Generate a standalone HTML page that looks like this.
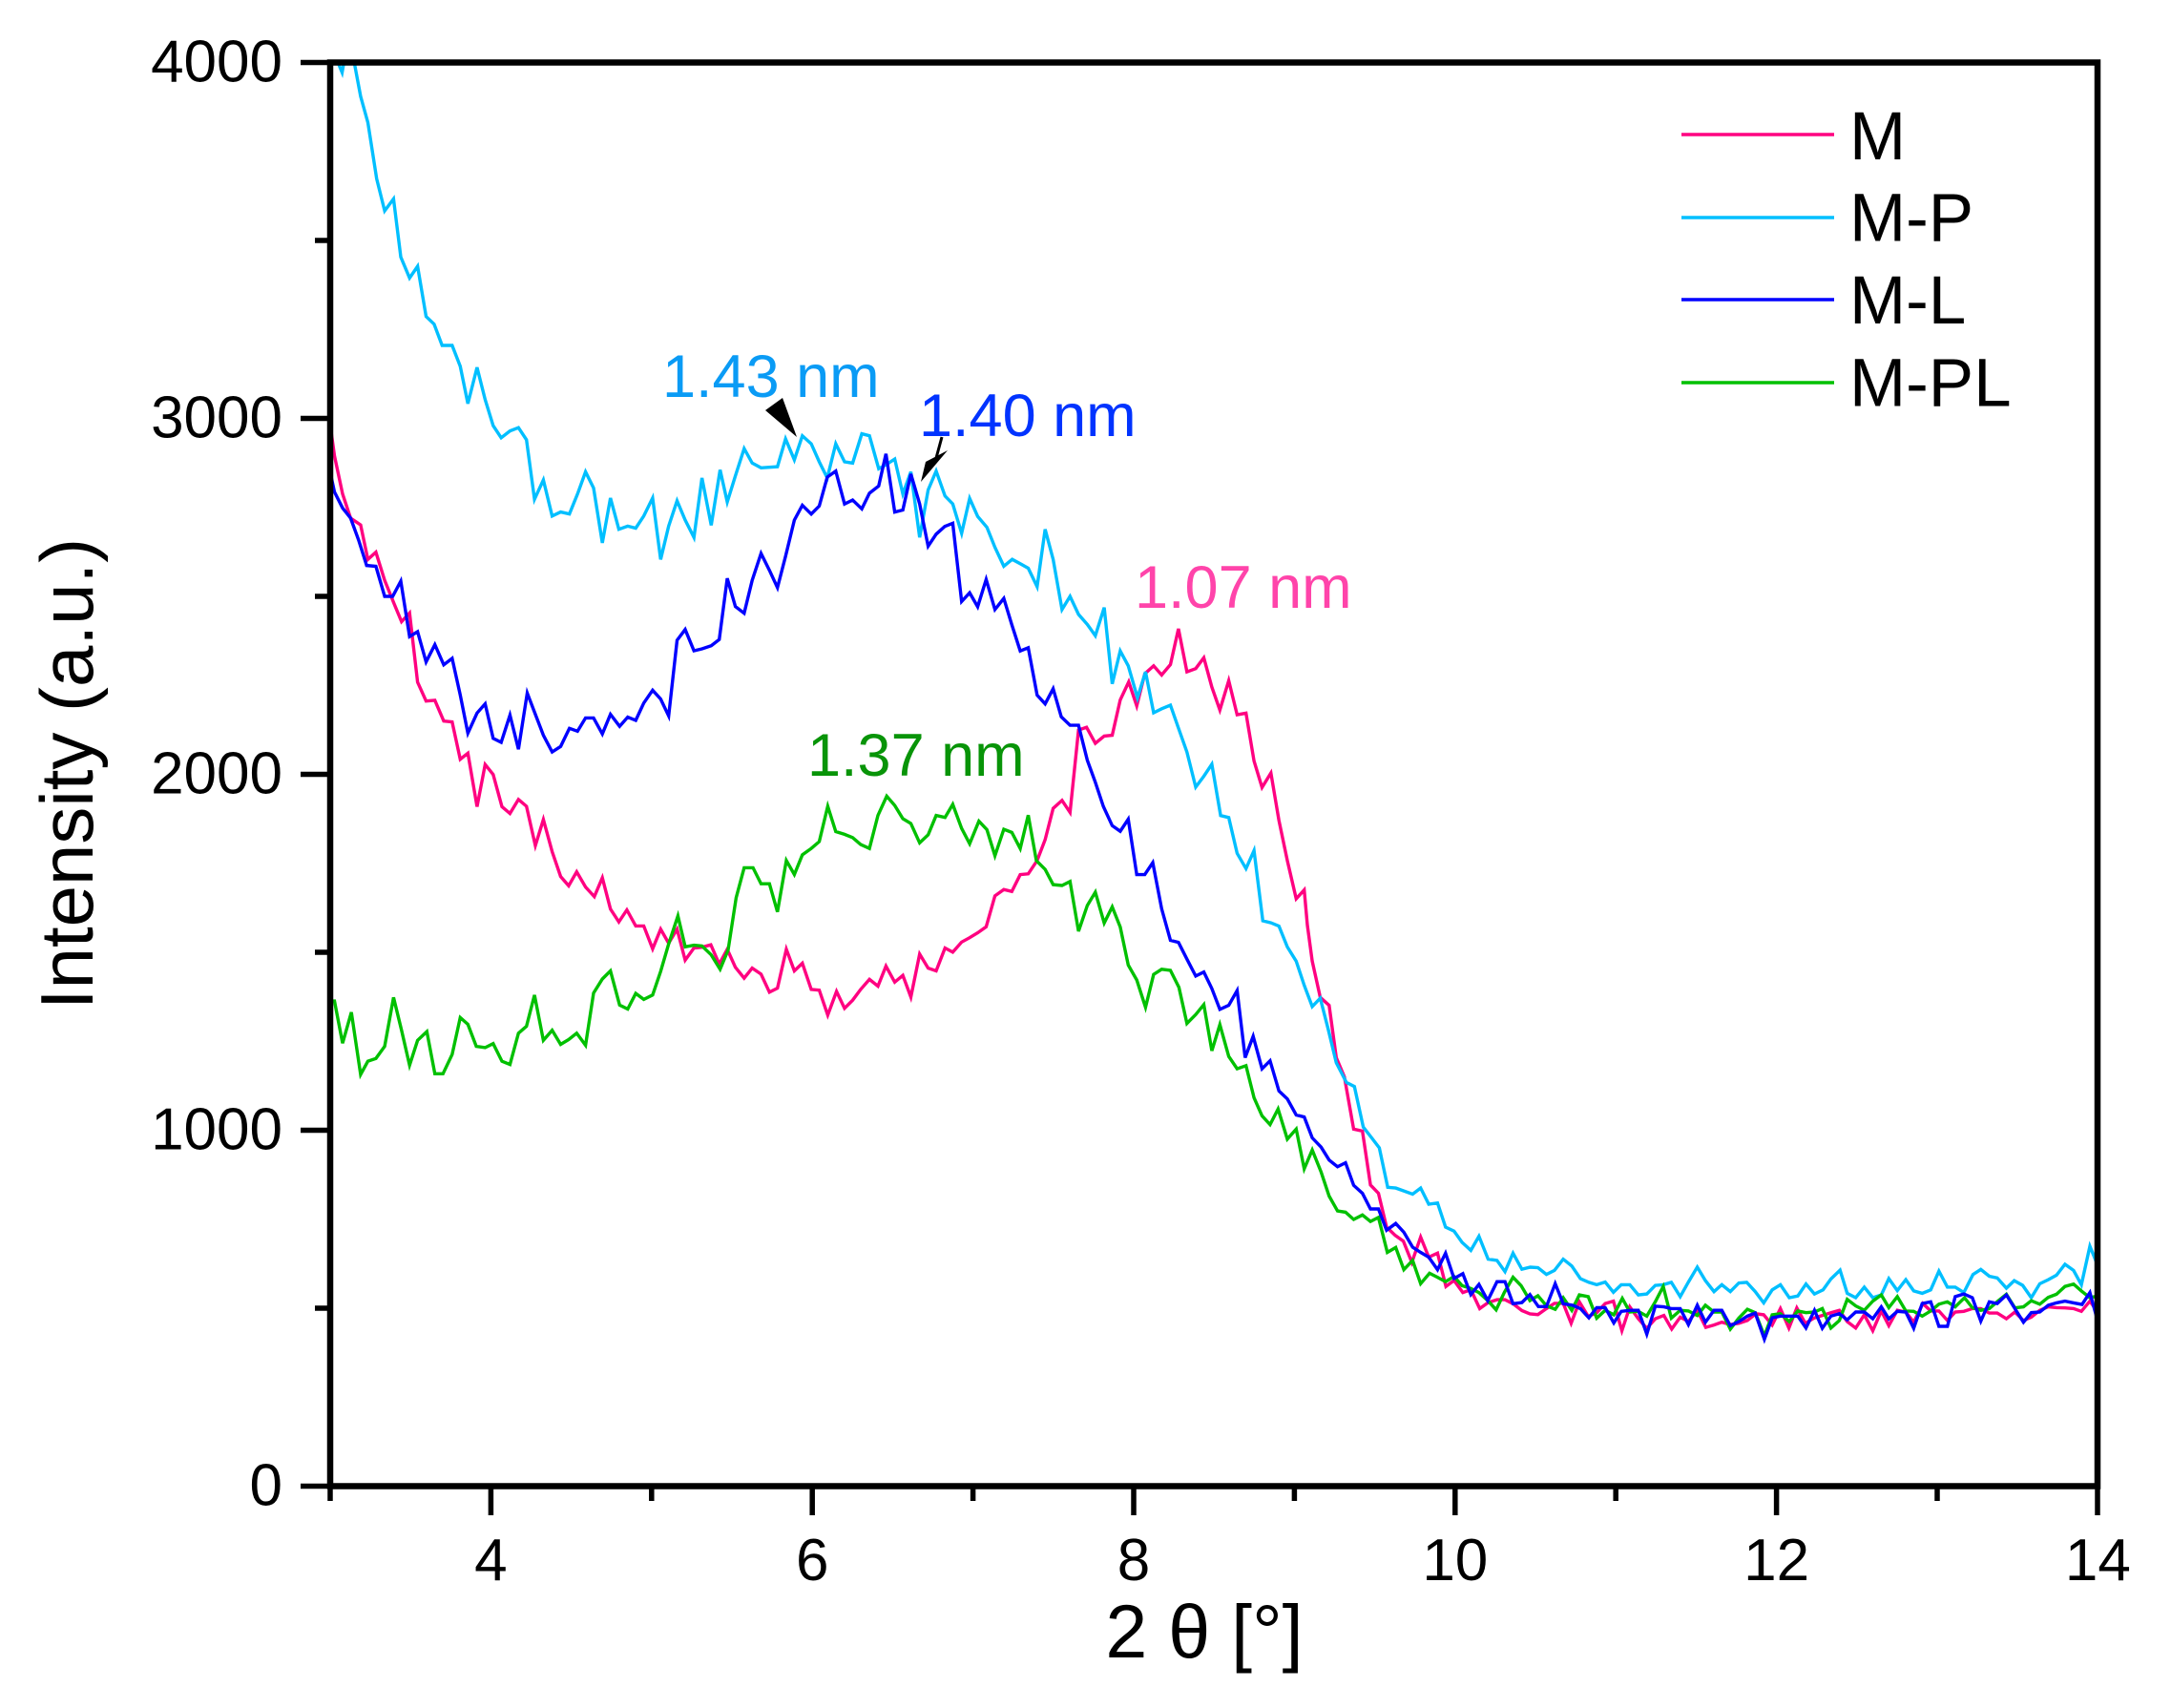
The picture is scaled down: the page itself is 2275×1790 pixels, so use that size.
<!DOCTYPE html>
<html>
<head>
<meta charset="utf-8">
<style>
html,body{margin:0;padding:0;background:#fff;}
svg{display:block;}
text{font-family:"Liberation Sans",Arial,sans-serif;}
</style>
</head>
<body>
<svg width="2275" height="1790" viewBox="0 0 2275 1790" xmlns="http://www.w3.org/2000/svg">
<rect x="0" y="0" width="2275" height="1790" fill="#fff"/>
<defs>
<clipPath id="pa"><rect x="346" y="65.5" width="1852" height="1492"/></clipPath>
</defs>

<g clip-path="url(#pa)" fill="none" stroke-width="3.4" stroke-linejoin="miter" stroke-linecap="butt">
<!-- M (pink) -->
<polyline stroke="#FF0080" points="345,437.7 350.5,477.7 359,517.7 367.4,543 377.9,550.1 385.5,586.3 393.9,578.7 403.1,608.2 412.4,631.3 420.8,651.5 429.2,642.4 437.6,714.9 446.5,734.7 455.7,733.9 465,755.7 473.8,756.6 482.3,795.7 490.3,789.4 499.9,845.4 508.4,801.2 516.8,811.7 526,845.4 534.4,852.5 543.3,837.8 551.7,845 561,886.2 569.4,858.9 578.6,892.5 587.5,918.6 595.9,928.3 604.3,913.6 613.6,929.6 622.8,939.7 631.2,919.9 639.7,952.7 648.5,966.2 656.9,953.6 666.2,970.4 674.6,970.4 683.9,994.4 692.3,973.8 700.7,988.5 709.5,973.8 718,1006.2 727.2,993.5 735.6,992.7 744.9,990.2 753.7,1010.4 762.1,994.8 770.6,1013.7 779.8,1025.1 788.2,1014.6 797.5,1020.9 806.3,1039.8 814.7,1035.6 824,994.8 832.4,1017.5 840.8,1009.5 850.1,1036.9 858.5,1037.7 867.4,1063.8 876.6,1039 885,1056.7 893.5,1048.2 901.9,1036.9 911.1,1026.4 920,1033.5 928.4,1012.5 937.6,1029.3 946.1,1022.2 954.5,1044.9 963.7,999.9 972.6,1014.6 981,1017.5 990.3,993.5 998.4,997.9 1007.7,987.3 1016.1,982.7 1024.5,977.6 1033.4,971.3 1042.6,938.9 1051.9,932.2 1060.3,934.3 1069.1,916.6 1077.5,915.8 1086.8,901.9 1095.2,880 1103.6,847.2 1112.9,838.8 1121.3,851.4 1130.2,765.1 1138.6,762.2 1147.8,779 1157.1,771.4 1165.5,770.6 1173.9,733.5 1182.8,714.6 1191.2,739.8 1199.6,706.2 1208.9,697.8 1217.3,707.4 1226.5,696.5 1234.9,659 1243.8,704.1 1253,700.7 1261.5,689.3 1269.9,720.1 1278.3,744.1 1287.6,713.3 1296.4,749.1 1305.7,747.4 1314.1,797.5 1322.5,825.3 1331.8,810.1 1340.2,859.8 1349,901.9 1358.3,941.9 1366.7,932.6 1370,969.5 1375.1,1007.3 1383.5,1045.2 1392.8,1053.6 1400.3,1108.4 1408.8,1128.6 1418.5,1183.3 1427.7,1185.4 1436.1,1241.8 1444.5,1250.6 1453,1286 1462.2,1294.8 1470.6,1300.7 1479.5,1323 1488.7,1296.5 1497.2,1317.5 1506.4,1313.3 1515.2,1348.2 1523.7,1341.9 1532.9,1354.6 1541.3,1351.6 1550.6,1371.4 1559.4,1365.1 1568.7,1362.1 1577.1,1362.1 1585.5,1366.3 1594.8,1373.5 1603.2,1376.9 1611.6,1377.7 1620.5,1371.4 1628.9,1365.9 1638.1,1365.9 1646.4,1386.8 1655,1364.3 1664.3,1379.6 1673.2,1375.7 1682.1,1366.1 1690.7,1363.6 1699.6,1394.6 1707.9,1369.6 1716.8,1382.1 1725.7,1392.1 1734.6,1382.1 1743.6,1378.6 1751.8,1392.9 1760.7,1380.4 1769.3,1385 1778.6,1373.2 1787.5,1391.1 1796.1,1388.6 1804.3,1385.7 1813.2,1388.2 1822.1,1386.8 1831.1,1383.9 1840,1376.8 1848.2,1377.9 1857.1,1388.6 1865.7,1371.4 1874.6,1391.8 1882.9,1370.7 1891.8,1386.8 1900.7,1381.4 1909.6,1378.6 1918.6,1375.7 1927.5,1373.2 1935.7,1385 1944.6,1391.8 1953.6,1377.9 1962.5,1394.6 1971.4,1373.9 1979.3,1389.3 1988.2,1373.2 1997.1,1375 2005.4,1385.7 2015,1366.1 2023.2,1373.9 2031.8,1373.9 2040.7,1383.9 2048.9,1375 2057.9,1374.3 2066.8,1371.4 2075.7,1371.4 2084.6,1376.1 2092.9,1376.1 2102.5,1382.1 2111.4,1375 2120.4,1383.9 2128.6,1380.4 2137.5,1373.2 2146.4,1369.6 2155,1370.4 2163.9,1370.7 2172.9,1371.4 2181.1,1374.3 2190,1363.6 2198.2,1375"/>
<!-- M-P (cyan) -->
<polyline stroke="#00BFFF" points="346,30 352,58 356,70 358.5,76 361,62 366,60 371.6,67.4 377.9,101 385.5,128.4 394.7,187.3 403.1,221 412.4,208.4 420,269.4 429.2,291.3 437.6,279.1 446.5,331.7 454.9,339.7 463.3,362 473.8,362 482.3,383.9 490.3,423 499.9,385.1 508.4,418.8 516.8,446.1 525.2,458.8 534.4,451.6 543.3,448.2 551.7,460.9 560.1,523.2 569.4,503 578.6,540.8 587.5,536.6 596.7,538.7 605.2,517.7 613.6,494.5 622,511.4 631.2,569 639.7,521.9 648.5,554.7 657.8,551.4 666.2,553.5 674.6,540.8 683.9,521.9 692.3,586.3 700.7,551.4 709.5,524.8 718,545 727.2,563.2 735.6,500.9 745.3,550.5 754.6,492.4 762.1,526.1 770.6,498.8 779.8,470.1 788.2,485.3 797.5,490.3 814.7,489.1 823.2,460 832.4,481.9 840.8,456.7 850.1,465.1 858.5,484 866.9,500.9 875.8,465.1 885,484 893.5,485.3 903.1,454.6 911.1,456.7 920.8,491.2 928.4,487 937.6,481.1 946.1,517.7 954.5,494.5 963.7,563.2 972.6,513.5 981,493.7 990.3,519.8 998.4,528.1 1007.7,558.9 1016.1,522.3 1024.5,541.2 1034.2,552.6 1042.6,573.6 1051.9,593.4 1060.7,586.2 1070,591.3 1077.5,595.5 1086.8,614.8 1095.2,554.7 1103.6,586.2 1112.9,638.8 1121.3,625 1130.2,643.9 1139.4,654.4 1147.8,666.2 1157.1,636.7 1165.5,716.7 1173.9,682.2 1182.3,697.8 1192,731.4 1200.4,704.1 1208.9,747 1217.3,742.8 1226.5,739 1234.9,763 1243.8,788.2 1253,824.9 1261.5,813.5 1269.9,800.9 1279.1,854.7 1287.6,856.8 1296.4,894.3 1305.7,910.3 1314.1,891.4 1323.3,965 1331.8,967.1 1340.2,970.5 1349,992.4 1358.3,1007.3 1366.7,1032.6 1375.1,1054.9 1383.5,1046.1 1391.9,1078.9 1400.3,1113.8 1410.9,1134.4 1419.3,1138.7 1428.6,1181.2 1437.4,1192.5 1445.4,1203 1454.2,1244.3 1462.7,1245.1 1471.1,1248.1 1480.3,1251.5 1488.7,1245.1 1497.2,1262 1506.4,1260.7 1514.8,1286 1523.7,1290.2 1532.1,1302 1541.3,1310.4 1549.8,1295.6 1559.4,1319.6 1568.7,1320.9 1577.1,1332.7 1585.5,1313.3 1594.8,1330.2 1603.6,1328 1611.6,1328.5 1620.5,1335.6 1628.9,1331.4 1638.1,1319.6 1647.1,1326.8 1656.1,1340 1665,1343.9 1673.2,1346.4 1682.1,1343.6 1690.7,1354.3 1698.9,1346.4 1707.9,1346.4 1716.8,1357.1 1725.7,1356.1 1734.6,1347.1 1742.9,1346.4 1751.4,1343.9 1760.7,1358.9 1769.3,1343.6 1778.6,1327.9 1787.1,1342.1 1796.1,1353.6 1804.3,1346.4 1813.2,1353.6 1822.1,1344.6 1830.4,1343.9 1839.3,1353.6 1848.2,1365.4 1857.1,1351.8 1865.7,1346.4 1875,1360 1883.9,1358.2 1892.5,1345.7 1901.4,1356.1 1910.4,1351.8 1918.6,1340.4 1928.2,1331.1 1935.7,1355.4 1944.6,1360 1953.6,1348.9 1962.5,1360 1971.4,1357.1 1979.3,1340 1988.2,1352.5 1997.1,1341.1 2005.4,1352.9 2014.3,1355.4 2023.2,1351.8 2031.8,1332.1 2040.7,1348.9 2048.9,1348.9 2057.9,1354.6 2067.5,1335.7 2075.7,1330.4 2084.6,1337.5 2092.9,1339.3 2102.5,1350 2110.7,1342.1 2119.6,1347.1 2128.6,1360 2137.5,1345.4 2146.4,1341.1 2155,1336.4 2163.9,1325 2172.9,1331.4 2181.1,1346.4 2190,1306.1 2198.2,1326.1"/>
<!-- M-PL (green) -->
<polyline stroke="#00C000" points="345,1049.1 350.5,1049.1 359,1093.3 368.2,1060.9 377.9,1126.1 385.5,1112.2 393.9,1109.3 403.1,1096.6 412.4,1045.3 420.8,1079.8 429.2,1116.4 437.6,1090.3 447.3,1081.1 455.7,1125.3 464.2,1125.3 473.8,1105.1 482.3,1066.4 490.3,1073.5 499.1,1096.6 508.4,1097.9 516.8,1093.7 526,1112.2 534.4,1115.6 543.3,1082.8 551.7,1075.6 560.1,1042.8 569.4,1090.3 578.6,1079.8 587.5,1094.5 595.9,1089.5 604.3,1082.8 613.6,1095.4 622,1040.7 631.2,1026 639.7,1017.5 649.3,1053.3 657.8,1057.5 666.2,1041.1 674.6,1047.4 683.9,1042.8 692.3,1018 700.7,989.3 710.4,959.9 718,992.3 727.2,990.6 735.6,991.4 745.3,1000.7 754.6,1015.8 763,995.6 771.4,940.9 779.8,909.4 789.1,909.4 797.5,926.2 806.3,926.2 814.7,955.7 824,901.8 832.4,916.5 840.8,895.9 850.1,889.2 858.5,882 867.4,845 875.8,871.5 885,874.4 893.5,877.8 901.9,885 911.1,889.2 920,854.6 929.2,834.4 937.6,844.1 946.1,858 954.5,863.1 963.7,883.3 972.6,874.9 981,854.6 990.3,856.7 998.4,843 1007.7,868.2 1016.1,884.2 1025.8,860.6 1034.2,869.5 1042.6,896.8 1051.9,869.1 1060.3,872.4 1069.1,889.3 1077.5,854.3 1086,901.9 1095.2,911.1 1103.6,927.1 1112.9,928 1121.3,923.8 1130.2,976 1139.4,949 1147.8,935 1157.1,967.3 1165.5,950.4 1173.9,971.5 1182.3,1011.4 1191.2,1027 1200.4,1055.7 1208.9,1021.2 1217.3,1015.8 1226.5,1017 1235.4,1034.7 1243.8,1072.6 1253,1063.3 1261.5,1052.8 1269.9,1101.2 1278.3,1073.8 1287.6,1107.1 1296.4,1120.1 1305.7,1116.8 1314.1,1150.4 1322.5,1169.4 1330.9,1178.6 1339.3,1162.2 1349,1193.8 1358.3,1183.3 1366.7,1224.9 1375.1,1205.2 1384.4,1228.3 1392.8,1253.5 1401.6,1269.1 1410,1270.4 1418.5,1278 1427.7,1273.3 1436.1,1280.1 1444.5,1275.9 1453.8,1312.5 1462.6,1307.4 1471.1,1330.6 1480.3,1320.9 1488.7,1345.3 1498,1334.4 1506.4,1338.6 1514.8,1343.2 1523.7,1337.7 1532.1,1347.4 1541.3,1350.3 1549.8,1354.6 1559,1363 1567.8,1372.7 1576.3,1354.6 1585.5,1338.6 1594,1347.4 1603.2,1363 1611.6,1357.9 1620.5,1368.5 1629.7,1372.2 1638.1,1360 1647.1,1373.2 1655,1357.1 1664.3,1358.9 1673.2,1381.4 1682.1,1373.2 1691.1,1377.9 1700,1360.7 1707.9,1375 1716.8,1374.3 1725.7,1379.3 1734.6,1364.3 1742.9,1348.2 1751.4,1381.4 1760.7,1373.2 1769.3,1373.9 1778.6,1378.6 1787.1,1367.9 1796.1,1375 1804.3,1375 1813.2,1392.9 1822.1,1381.4 1831.1,1372.1 1839.3,1375.7 1848.9,1400 1857.1,1377.9 1865.7,1376.8 1875,1385 1883.9,1373.9 1892.5,1375.7 1901.4,1375 1909.6,1371.4 1918.6,1391.8 1927.5,1383.9 1935.7,1361.8 1944.6,1368.6 1953.6,1373.2 1962.5,1363.6 1971.4,1357.1 1979.3,1370.4 1988.2,1358.9 1997.1,1373.9 2005.4,1374.3 2014.3,1379.3 2023.2,1373.9 2031.8,1366.8 2040.7,1364.3 2048.9,1369.6 2058.6,1360 2066.8,1370.4 2075.7,1373.2 2084.6,1371.4 2093.6,1363.6 2102.5,1356.4 2111.4,1370.7 2120.4,1369.6 2128.6,1363.2 2137.5,1366.8 2146.4,1359.6 2155,1356.4 2163.9,1348.2 2172.9,1345.7 2181.1,1352.9 2190,1360 2198.2,1358.2"/>
<!-- M-L (blue) -->
<polyline stroke="#0000FF" points="345,490.3 350.5,515.6 359,532.4 367.4,543 375.8,566 384.2,592.6 393.9,593.5 403.1,625 411.5,625 420,609 429.2,667.1 437.6,662 446.5,693.7 455.7,675.6 465,696.7 473.8,690 482.3,728.4 490.3,768.4 499.9,747.3 508.4,737.6 516.8,773.8 525.2,778 534.4,749.4 543.3,785.2 552.5,726.3 561,748.6 569.4,770.5 578.6,788.1 587.5,782.3 596.7,763.3 605.2,766.3 613.6,752.4 622,752.4 631.2,769.2 639.7,748.6 649.3,761.2 657.8,751.5 666.2,754.9 674.6,736.8 683.9,723.3 692.3,732.6 700.7,750.3 709.5,671 718,659.7 727.2,682 735.6,680 745.3,676.7 753.7,670.2 762.1,606.1 770.6,635.6 779.8,642.7 788.2,608.2 797.5,580 806.3,597.7 814.7,615.8 823.2,582.9 832.4,545.1 840.8,529.5 850.1,538.7 858.5,530.3 866.9,500 875.8,493.7 885,528.2 893.5,524 903.1,533.3 911.1,516.9 920.8,509.3 928.4,475.6 937.6,536.6 946.1,534.5 954.5,496.7 963.7,528.2 972.6,572.4 981,559.8 990,551.7 998.4,548.4 1007.7,630.4 1016.1,621.2 1024.5,635.9 1033.4,607.3 1042.6,638.8 1051.9,627.1 1060.3,654.8 1069.1,682.2 1077.5,678.8 1086.8,728.5 1095.2,737.7 1103.6,721.8 1112.1,751.2 1121.3,760.1 1130.2,760.1 1139.4,796.7 1147.8,819.8 1156.2,845.1 1165.5,865.3 1173.9,871.2 1182.3,858.5 1191.2,916.6 1199.6,916.6 1208,904 1217.3,952.4 1226.5,985.5 1234.9,987.6 1243.8,1005.2 1253,1022.9 1261.5,1018.7 1269.9,1036 1278.3,1057.8 1287.6,1053.6 1296.4,1038.1 1304.8,1108.4 1313.2,1086 1322.5,1120.1 1330.9,1111.7 1340.2,1143.3 1349,1151.7 1358.3,1168.5 1366.7,1170.6 1375.1,1192.5 1384.4,1202.2 1392.8,1215.7 1401.6,1222.8 1410,1218.6 1418.5,1242.2 1427.7,1250.6 1436.1,1267 1444.5,1267 1453,1289.3 1462.6,1282.2 1471.1,1291.4 1480.3,1307 1488.7,1312.5 1497.2,1317.5 1506.4,1330.6 1514.8,1313.3 1523.7,1339.8 1532.9,1334.8 1541.3,1356.7 1549.8,1346.1 1559,1363 1568.7,1343.2 1577.1,1343.2 1585.5,1366.3 1594.8,1365.1 1603.2,1356.7 1612.1,1369.3 1620.5,1369.3 1629.7,1345.3 1638.1,1366.3 1647.9,1367.9 1656.1,1371.4 1665,1381.1 1673.2,1370.4 1682.1,1370.4 1691.1,1386.4 1698.9,1374.3 1708.6,1373.2 1716.8,1373.2 1725.7,1398.2 1734.6,1368.9 1743.6,1369.6 1751.4,1371.4 1760.7,1371.4 1769.3,1388.2 1778.6,1367.9 1787.1,1385.7 1796.1,1373.2 1804.3,1373.2 1813.2,1389.3 1822.1,1385 1831.1,1379.3 1839.3,1376.1 1848.9,1403.6 1857.1,1381.1 1865.7,1379.3 1875,1379.3 1883.9,1379.3 1892.5,1391.8 1901.4,1373.2 1909.6,1392.1 1918.6,1379.3 1927.5,1376.8 1935.7,1383.2 1944.6,1375 1953.6,1375 1962.5,1382.1 1971.4,1369.6 1979.3,1382.1 1988.2,1374.3 1997.1,1375 2005.4,1392.1 2014.3,1366.1 2023.2,1364.3 2031.8,1390 2040.7,1390 2048.9,1358.9 2057.9,1356.1 2066.8,1360 2075.7,1384.6 2084.6,1364.3 2092.9,1366.1 2102.5,1357.1 2111.4,1371.4 2120.4,1385.7 2128.6,1375.7 2137.5,1375 2146.4,1367.9 2155,1365.4 2163.9,1363.6 2172.9,1365.4 2181.8,1367.1 2190,1354.6 2198.2,1384.6"/>
</g>

<!-- axes frame -->
<rect x="346" y="65.5" width="1852" height="1492" fill="none" stroke="#000" stroke-width="6.5"/>

<!-- y ticks -->
<g stroke="#000" stroke-width="5.5">
<line x1="315" y1="65.5" x2="346" y2="65.5"/>
<line x1="315" y1="438.5" x2="346" y2="438.5"/>
<line x1="315" y1="811.5" x2="346" y2="811.5"/>
<line x1="315" y1="1184.5" x2="346" y2="1184.5"/>
<line x1="315" y1="1557.5" x2="346" y2="1557.5"/>
<line x1="330" y1="252" x2="346" y2="252"/>
<line x1="330" y1="625" x2="346" y2="625"/>
<line x1="330" y1="998" x2="346" y2="998"/>
<line x1="330" y1="1371" x2="346" y2="1371"/>
<!-- x ticks -->
<line x1="514.4" y1="1557" x2="514.4" y2="1588"/>
<line x1="851.2" y1="1557" x2="851.2" y2="1588"/>
<line x1="1188" y1="1557" x2="1188" y2="1588"/>
<line x1="1524.8" y1="1557" x2="1524.8" y2="1588"/>
<line x1="1861.6" y1="1557" x2="1861.6" y2="1588"/>
<line x1="2198" y1="1557" x2="2198" y2="1588"/>
<line x1="346" y1="1557" x2="346" y2="1573"/>
<line x1="682.8" y1="1557" x2="682.8" y2="1573"/>
<line x1="1019.6" y1="1557" x2="1019.6" y2="1573"/>
<line x1="1356.4" y1="1557" x2="1356.4" y2="1573"/>
<line x1="1693.2" y1="1557" x2="1693.2" y2="1573"/>
<line x1="2030" y1="1557" x2="2030" y2="1573"/>
</g>

<!-- tick labels -->
<g font-size="62" fill="#000" text-anchor="end">
<text x="296" y="85.5">4000</text>
<text x="296" y="458.5">3000</text>
<text x="296" y="831.5">2000</text>
<text x="296" y="1204.5">1000</text>
<text x="296" y="1577.5">0</text>
</g>
<g font-size="62" fill="#000" text-anchor="middle">
<text x="514.4" y="1656">4</text>
<text x="851.2" y="1656">6</text>
<text x="1188" y="1656">8</text>
<text x="1524.8" y="1656">10</text>
<text x="1861.6" y="1656">12</text>
<text x="2198.4" y="1656">14</text>
</g>

<!-- axis titles -->
<text x="1262" y="1737" font-size="79" text-anchor="middle" fill="#000">2 θ [°]</text>
<text transform="translate(97,811) rotate(-90)" font-size="78" text-anchor="middle" fill="#000">Intensity (a.u.)</text>

<!-- legend -->
<g stroke-width="3.4">
<line x1="1762" y1="141" x2="1922" y2="141" stroke="#FF0080"/>
<line x1="1762" y1="228" x2="1922" y2="228" stroke="#00BFFF"/>
<line x1="1762" y1="314" x2="1922" y2="314" stroke="#0000FF"/>
<line x1="1762" y1="401" x2="1922" y2="401" stroke="#00C000"/>
</g>
<g font-size="71" fill="#000">
<text x="1938" y="167">M</text>
<text x="1938" y="252.5">M-P</text>
<text x="1938" y="339">M-L</text>
<text x="1938" y="425.5">M-PL</text>
</g>

<!-- annotations -->
<g font-size="63">
<text x="694" y="416" fill="#0A9BF5">1.43 nm</text>
<text x="963" y="457" fill="#0033FF">1.40 nm</text>
<text x="1189" y="637" fill="#FF44AA">1.07 nm</text>
<text x="846" y="813" fill="#089408">1.37 nm</text>
</g>
<polygon points="802,430 820,417 835,458" fill="#000"/>
<line x1="987" y1="458" x2="981" y2="480" stroke="#000" stroke-width="3"/>
<polygon points="970,484 993,472 965,505" fill="#000"/>
</svg>
</body>
</html>
